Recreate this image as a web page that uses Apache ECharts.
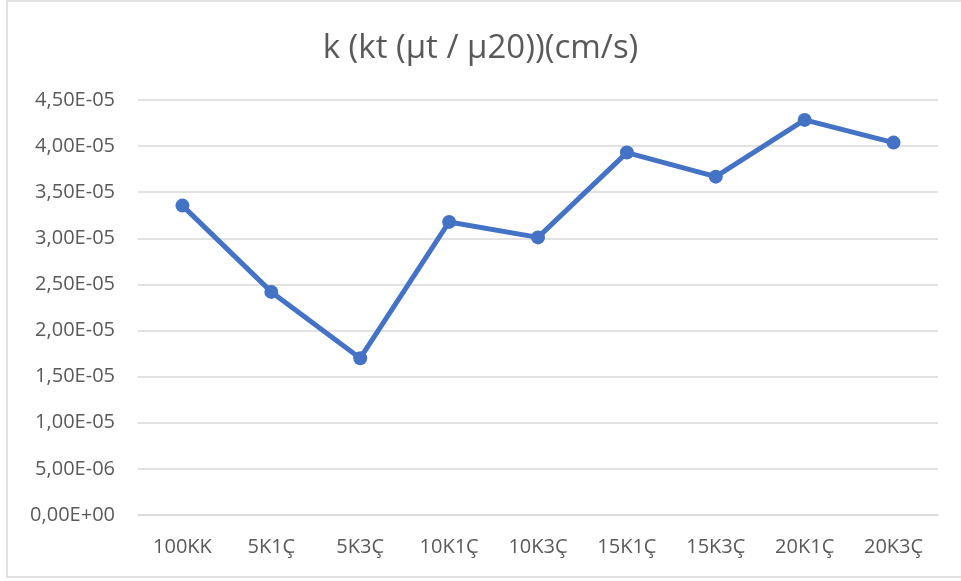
<!DOCTYPE html>
<html>
<head>
<meta charset="utf-8">
<script src="https://cdn.jsdelivr.net/npm/echarts@6/dist/echarts.min.js"></script>
<style>
html,body{margin:0;padding:0;background:#fff;}
#chart{width:961px;height:581px;}
</style>
</head>
<body>
<div id="chart"></div>
<script>
const titleText = 'k (kt (µt / µ20))(cm/s)';
const categories = ['100KK','5K1Ç','5K3Ç','10K1Ç','10K3Ç','15K1Ç','15K3Ç','20K1Ç','20K3Ç'];
const kValues = [3.355e-5, 2.419e-5, 1.700e-5, 3.178e-5, 3.010e-5, 3.930e-5, 3.669e-5, 4.284e-5, 4.038e-5];
const yMin = 0;
const yMax = 4.5e-5;
const yStep = 5e-6;

function fmtSci(v) {
  const s = Number(v).toExponential(2);
  const parts = s.split('e');
  const mant = parts[0].replace('.', ',');
  const ex = parseInt(parts[1], 10);
  const sign = ex < 0 ? '-' : '+';
  const a = Math.abs(ex);
  return mant + 'E' + sign + (a < 10 ? '0' + a : '' + a);
}

const FONT = '"Open Sans", "Noto Sans", sans-serif';
const chart = echarts.init(document.getElementById('chart'), null, {renderer: 'canvas'});
chart.setOption({
  backgroundColor: '#ffffff',
  animation: false,
  title: {
    text: titleText,
    left: 'center',
    top: 27,
    textStyle: {color: '#595959', fontSize: 33, fontWeight: 'normal', fontFamily: FONT}
  },
  graphic: [{
    type: 'rect',
    shape: {x: 7, y: 1, width: 970, height: 576},
    style: {fill: 'none', stroke: '#d9d9d9', lineWidth: 1.5},
    silent: true
  }],
  grid: {left: 138, right: 23, top: 100, bottom: 66, containLabel: false},
  xAxis: {
    type: 'category',
    data: categories,
    boundaryGap: true,
    axisLine: {show: true, lineStyle: {color: '#d9d9d9', width: 1.5}},
    axisTick: {show: false},
    axisLabel: {color: '#595959', fontSize: 20, fontFamily: FONT, margin: 22}
  },
  yAxis: {
    type: 'value',
    min: yMin,
    max: yMax,
    interval: yStep,
    axisLine: {show: false},
    axisTick: {show: false},
    splitLine: {lineStyle: {color: '#d9d9d9', width: 1.5}},
    axisLabel: {color: '#595959', fontSize: 20, fontFamily: FONT, margin: 23, formatter: fmtSci}
  },
  series: [{
    type: 'line',
    data: kValues,
    symbol: 'circle',
    symbolSize: 14,
    lineStyle: {color: '#4472C4', width: 5},
    itemStyle: {color: '#4472C4'}
  }]
});
</script>
</body>
</html>
